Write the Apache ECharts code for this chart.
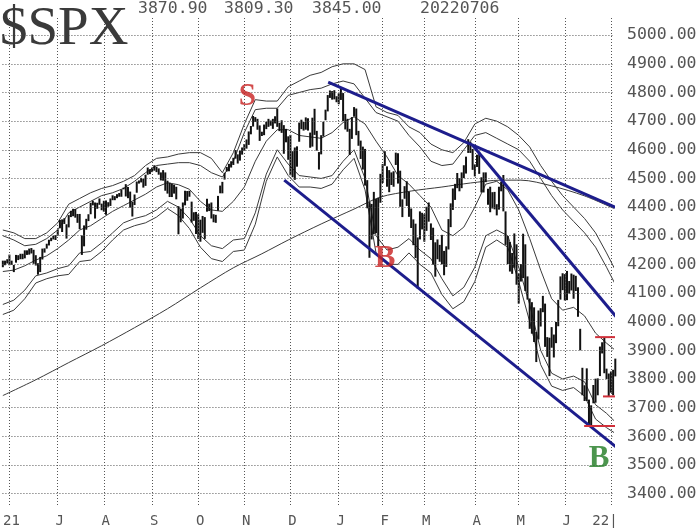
<!DOCTYPE html>
<html><head><meta charset="utf-8">
<script src="https://cdn.jsdelivr.net/npm/echarts@6/dist/echarts.min.js"></script>
<style>html,body{margin:0;padding:0;background:#fff}#c{width:700px;height:528px}</style>
</head><body><div id="c"></div>
<script>
// ---- tick labels ----
const monthIdx = [3,25,46,68,89,110,131,153,173,192,215,235,256,277];
const monthLbl = ['21','J','A','S','O','N','D','J','F','M','A','M','J','22|'];
const yTicks = [3400,3500,3600,3700,3800,3900,4000,4100,4200,4300,4400,4500,4600,4700,4800,4900,5000];
const headerVals = ['3870.90','3809.30','3845.00'];
const headerDate = '20220706';

// ---- daily bars (trading day index 0 = 2021-05-26) ----
const lows = [
4190,4197,4203,4197,4198,4173,4206,4215,4218,4218,
4221,4233,4234,4238,4202,4196,4164,4173,4217,4241,
4255,4266,4281,4287,4285,4300,4326,4313,4341,4290,
4329,4365,4368,4363,4345,4323,4233,4263,4321,4351,
4375,4406,4360,4394,4408,4389,4384,4373,4401,4404,
4424,4424,4431,4436,4436,4462,4437,4431,4398,4367,
4407,4450,4482,4486,4468,4474,4513,4515,4522,4527,
4522,4513,4493,4492,4457,4447,4435,4435,4447,4427,
4305,4347,4360,4406,4422,4436,4346,4352,4306,4289,
4279,4310,4289,4384,4386,4360,4347,4345,4387,4448,
4448,4496,4524,4525,4538,4547,4569,4552,4562,4583,
4596,4604,4617,4654,4681,4697,4670,4631,4648,4651,
4672,4680,4684,4673,4692,4680,4665,4659,4586,4626,
4565,4511,4504,4495,4541,4628,4672,4667,4670,4667,
4607,4611,4652,4597,4531,4584,4646,4703,4734,4781,
4775,4776,4766,4759,4774,4700,4671,4663,4582,4638,
4716,4651,4614,4568,4531,4475,4396,4223,4287,4305,
4309,4264,4415,4484,4544,4471,4452,4477,4471,4547,
4482,4401,4365,4429,4404,4366,4327,4267,4222,4115,
4287,4322,4279,4317,4349,4285,4199,4157,4218,4209,
4200,4162,4191,4252,4330,4390,4425,4466,4455,4466,
4501,4517,4589,4589,4530,4507,4540,4516,4451,4451,
4487,4408,4382,4395,4392,4371,4391,4455,4385,4268,
4201,4175,4167,4188,4129,4063,4140,4152,4107,4077,
3975,3958,3929,3859,3938,3983,4033,3912,3877,3810,
3909,3875,3925,3984,4077,4110,4074,4075,4098,4109,
4080,4107,4017,3900,3743,3723,3723,3639,3636,3715,
3717,3743,3810,3889,3820,3800,3739,3752,3743,3809];
const highs = [
4213,4213,4218,4234,4213,4198,4233,4232,4237,4237,
4249,4249,4255,4257,4251,4232,4204,4226,4255,4256,
4272,4286,4293,4300,4302,4321,4355,4357,4361,4340,
4372,4387,4394,4393,4376,4376,4301,4336,4359,4375,
4415,4422,4416,4415,4430,4412,4422,4423,4417,4430,
4441,4438,4445,4449,4461,4468,4480,4470,4454,4418,
4444,4489,4493,4502,4499,4513,4538,4532,4538,4546,
4541,4535,4521,4529,4521,4492,4485,4481,4478,4471,
4403,4394,4416,4457,4456,4457,4419,4382,4383,4375,
4356,4369,4365,4429,4412,4416,4375,4373,4439,4475,
4488,4520,4540,4551,4560,4572,4599,4584,4597,4608,
4620,4636,4664,4683,4718,4714,4708,4685,4663,4688,
4698,4708,4702,4708,4717,4744,4694,4703,4686,4673,
4647,4652,4595,4608,4612,4695,4705,4697,4713,4710,
4660,4712,4743,4666,4592,4651,4698,4740,4791,4807,
4805,4808,4787,4797,4819,4798,4725,4708,4673,4714,
4749,4744,4666,4632,4611,4603,4494,4417,4411,4453,
4428,4432,4516,4550,4595,4542,4529,4521,4525,4590,
4588,4527,4427,4473,4490,4454,4395,4357,4342,4294,
4385,4380,4375,4401,4416,4343,4328,4277,4287,4268,
4303,4247,4263,4358,4413,4465,4481,4519,4501,4521,
4546,4576,4637,4628,4603,4549,4583,4593,4504,4521,
4521,4464,4471,4452,4453,4410,4471,4489,4512,4385,
4299,4278,4240,4308,4270,4169,4201,4307,4270,4158,
4081,4068,4050,3964,4039,4047,4090,4063,3946,3944,
3981,3955,3999,4076,4158,4169,4166,4177,4142,4168,
4164,4160,4120,3975,3839,3778,3837,3728,3708,3779,
3801,3802,3913,3928,3946,3836,3819,3826,3832,3871];

const bandIdx = [0,5,10,15,20,25,30,35,40,45,50,55,60,65,70,75,80,85,90,95,100,105,110,115,120,125,130,135,140,145,150,155,160,165,170,175,180,185,190,195,200,205,210,215,220,225,230,235,240,245,250,255,260,265,270,275,279];
const upperOuter = [4320,4310,4290,4290,4310,4345,4410,4430,4450,4465,4475,4490,4510,4545,4570,4575,4585,4590,4590,4570,4520,4590,4690,4775,4770,4770,4820,4840,4860,4870,4890,4900,4900,4880,4750,4730,4720,4680,4660,4620,4600,4590,4625,4690,4710,4700,4680,4650,4610,4545,4490,4440,4400,4360,4310,4240,4180];
const upperInner = [4300,4285,4265,4270,4290,4320,4380,4400,4420,4440,4450,4465,4490,4520,4545,4550,4555,4555,4545,4520,4505,4560,4660,4740,4745,4745,4790,4800,4810,4815,4830,4840,4830,4780,4730,4715,4700,4650,4610,4560,4545,4550,4600,4650,4660,4640,4620,4600,4560,4500,4440,4390,4350,4310,4260,4190,4130];
const middle = [4175,4180,4195,4215,4230,4255,4285,4320,4335,4360,4385,4405,4425,4445,4470,4485,4478,4462,4420,4390,4385,4420,4470,4560,4630,4670,4670,4650,4645,4640,4660,4695,4715,4690,4630,4575,4510,4480,4440,4400,4320,4300,4330,4400,4480,4490,4460,4390,4290,4180,4080,4040,4050,4020,3960,3925,3900];
const lowerInner = [4060,4075,4110,4160,4170,4185,4195,4240,4245,4275,4310,4345,4360,4370,4390,4420,4400,4360,4300,4265,4255,4285,4290,4380,4515,4600,4550,4510,4505,4500,4510,4560,4600,4500,4300,4250,4260,4290,4250,4220,4150,4090,4120,4190,4300,4320,4300,4190,4060,3900,3820,3800,3810,3790,3710,3680,3650];
const lowerOuter = [4025,4040,4080,4135,4150,4160,4165,4210,4215,4245,4285,4320,4335,4345,4365,4395,4370,4325,4260,4220,4210,4245,4250,4340,4490,4575,4510,4470,4470,4465,4480,4530,4570,4460,4240,4200,4200,4240,4200,4170,4095,4045,4070,4140,4260,4285,4260,4140,4000,3850,3775,3760,3770,3740,3660,3630,3610];
const ma200Idx = [0,15,30,45,60,75,90,105,118,130,145,160,172,186,200,213,227,236,250,265,279];
const ma200 = [3742,3797,3857,3916,3979,4045,4118,4188,4237,4285,4341,4393,4435,4456,4470,4484,4494,4494,4474,4439,4393];

// ---- drawn trend lines and levels (index, value) ----
const trendLines = [
  [[148.2,4836],[290.2,4362]],
  [[214.0,4616],[284.3,3972]],
  [[128.2,4494],[282.5,3543]]
];
const levels = [
  [[269.8,3946],[283.4,3946]],
  [[273.4,3739],[283.4,3739]],
  [[264.8,3636],[283.0,3636]]
];
const notes = [
  {i:111.4, v:4784, t:'S', c:'#c82020'},
  {i:174.1, v:4219, t:'B', c:'#c82020'},
  {i:271.6, v:3522, t:'B', c:'#1f7a22'}
];

const zip = (xs, ys) => xs.map((x, k) => [x, ys[k]]);
const mono = 'DejaVu Sans Mono';
const dotStyle = {color:'#555', width:1, type:[1,2]};

const bandSeries = [upperOuter, upperInner, middle, lowerInner, lowerOuter].map(arr => ({
  type:'line', data: zip(bandIdx, arr), symbol:'none', clip:false, z:2,
  lineStyle:{color:'#3a3a3a', width:1}
}));

const chart = echarts.init(document.getElementById('c'), null, {renderer:'canvas'});
chart.setOption({
  animation:false,
  backgroundColor:'#fff',
  grid:{left:0, top:18, right:87, bottom:22.3},
  xAxis:{
    type:'value', min:-0.18, max:277.95,
    axisLine:{show:false},
    axisTick:{show:false, customValues: monthIdx},
    axisLabel:{
      customValues: monthIdx, margin:9,
      formatter: v => {
        const k = monthIdx.indexOf(Math.round(v));
        if (k < 0) return '';
        return (k === monthIdx.length - 1 ? '{e|' : '{n|') + monthLbl[k] + '}';
      },
      rich:{
        n:{padding:[0,0,0,4], fontSize:14, fontFamily:mono, color:'#555'},
        e:{padding:[0,12,0,0], fontSize:14, fontFamily:mono, color:'#555'}
      }
    },
    splitLine:{show:false}
  },
  yAxis:{
    type:'value', position:'right', min:3360, max:5060,
    axisLine:{show:false},
    axisTick:{show:false, customValues: yTicks},
    axisLabel:{customValues: yTicks, margin:14, fontSize:16.5, fontFamily:mono, color:'#555',
      formatter: v => v.toFixed(2)},
    splitLine:{show:false}
  },
  graphic:[
    {type:'text', left:0, top:2, z:10, style:{text:'$SPX', font:'55px "Liberation Serif"', fill:'#3a3a3a'}},
    {type:'text', x:138, y:9, z:10, style:{text:headerVals[0], font:'16.5px "DejaVu Sans Mono"', fill:'#555', verticalAlign:'middle'}},
    {type:'text', x:224, y:9, z:10, style:{text:headerVals[1], font:'16.5px "DejaVu Sans Mono"', fill:'#555', verticalAlign:'middle'}},
    {type:'text', x:312, y:9, z:10, style:{text:headerVals[2], font:'16.5px "DejaVu Sans Mono"', fill:'#555', verticalAlign:'middle'}},
    {type:'text', x:420, y:9, z:10, style:{text:headerDate, font:'16.5px "DejaVu Sans Mono"', fill:'#555', verticalAlign:'middle'}}
  ],
  series:[
    {type:'line', data:[], z:1, silent:true,
      markLine:{silent:true, symbol:['none','none'], label:{show:false}, lineStyle:dotStyle,
        emphasis:{disabled:true},
        data:[...yTicks.map(v => ({yAxis:v})), ...monthIdx.map(i => ({xAxis:i}))]}},
    ...bandSeries,
    {type:'line', data: zip(ma200Idx, ma200), symbol:'none', clip:false, z:2, smooth:0.3,
      lineStyle:{color:'#3a3a3a', width:1}},
    {type:'custom', z:3, clip:false,
      data: lows.map((l, i) => [i, l, highs[i]]),
      encode:{x:0, y:[1,2]},
      renderItem:(params, api) => {
        const i = api.value(0);
        const lo = api.coord([i, api.value(1)]);
        const hi = api.coord([i, api.value(2)]);
        return {type:'rect', shape:{x:lo[0]-1, y:hi[1], width:2, height:Math.max(1, lo[1]-hi[1])},
          style:{fill:'#111'}};
      }
    },
    ...trendLines.map(d => ({type:'line', data:d, symbol:'none', clip:false, z:5,
      lineStyle:{color:'#1d1d8c', width:3}})),
    ...levels.map(d => ({type:'line', data:d, symbol:'none', clip:false, z:5,
      lineStyle:{color:'#d0303a', width:2}})),
    {type:'scatter', z:6, symbolSize:1, itemStyle:{color:'rgba(0,0,0,0)'}, clip:false,
      data: notes.map(n => ({value:[n.i, n.v], label:{show:true, position:'inside', formatter:n.t,
        color:n.c, fontFamily:'Liberation Serif', fontWeight:'bold', fontSize:31}}))}
  ]
});
</script></body></html>
